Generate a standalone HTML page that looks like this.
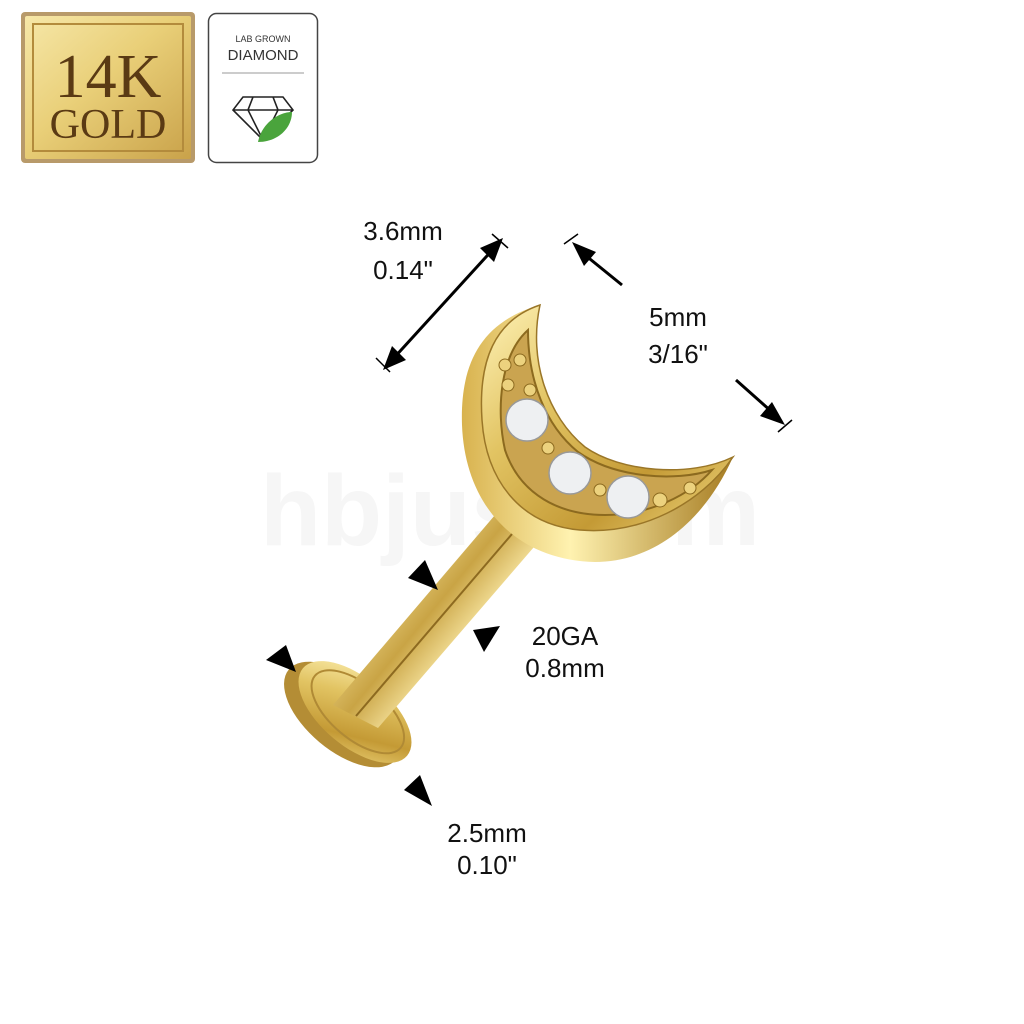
<!DOCTYPE html>
<html><head><meta charset="utf-8"><style>html,body{margin:0;padding:0;background:#fff}svg{display:block}</style></head>
<body>
<svg width="1024" height="1024" viewBox="0 0 1024 1024" xmlns="http://www.w3.org/2000/svg">
<defs>
<linearGradient id="gb" x1="0" y1="0" x2="1" y2="1">
<stop offset="0" stop-color="#f6e7a8"/><stop offset="0.45" stop-color="#e9cf78"/><stop offset="1" stop-color="#c9a24a"/></linearGradient>
<linearGradient id="gold" x1="0" y1="0" x2="1" y2="1">
<stop offset="0" stop-color="#fff3b8"/><stop offset="0.35" stop-color="#e2c463"/><stop offset="0.7" stop-color="#c49a35"/><stop offset="1" stop-color="#f0d880"/></linearGradient>
<linearGradient id="side" x1="0" y1="0" x2="1" y2="0">
<stop offset="0" stop-color="#d8b24e"/><stop offset="0.4" stop-color="#fff2b0"/><stop offset="1" stop-color="#a67c22"/></linearGradient>
<linearGradient id="post" x1="0" y1="0" x2="1" y2="0.85">
<stop offset="0" stop-color="#a27a25"/><stop offset="0.25" stop-color="#f5e29a"/><stop offset="0.5" stop-color="#c9a445"/><stop offset="0.7" stop-color="#fff0b0"/><stop offset="1" stop-color="#a07828"/></linearGradient>
</defs>
<!-- 14K badge -->
<rect x="21" y="12" width="174" height="151" rx="4" fill="#b89a6a"/>
<rect x="25" y="16" width="166" height="143" rx="2" fill="url(#gb)"/>
<rect x="33" y="24" width="150" height="127" fill="none" stroke="#b38b3c" stroke-width="2"/>
<text x="108" y="97" text-anchor="middle" font-family="Liberation Serif,serif" font-size="62" fill="#5a3a14">14K</text>
<text x="108" y="138" text-anchor="middle" font-family="Liberation Serif,serif" font-size="42" fill="#5a3a14">GOLD</text>
<!-- Lab badge -->
<rect x="208.5" y="13.5" width="109" height="149" rx="8" fill="#fff" stroke="#444" stroke-width="1.5"/>
<text x="263" y="42" text-anchor="middle" font-family="Liberation Sans,sans-serif" font-size="9" fill="#333">LAB GROWN</text>
<text x="263" y="60" text-anchor="middle" font-family="Liberation Sans,sans-serif" font-size="15" fill="#333">DIAMOND</text>
<line x1="222" y1="73" x2="304" y2="73" stroke="#999" stroke-width="1"/>
<path d="M243 97 L283 97 L293 110 L263 140 L233 110 Z M233 110 L293 110 M253 97 L248 110 L263 140 L278 110 L273 97" fill="none" stroke="#222" stroke-width="1.6"/>
<path d="M258 142 C262 122 280 112 292 112 C292 128 278 142 258 142 Z" fill="#4aa43c"/>
<!-- watermark -->
<text x="510" y="545" text-anchor="middle" font-family="Liberation Sans,sans-serif" font-weight="bold" font-size="100" fill="#f6f6f6">hbjus.com</text>
<!-- disc -->
<g transform="rotate(40 355 712)">
<ellipse cx="347" cy="722" rx="70" ry="36" fill="#b48d35"/>
<ellipse cx="355" cy="712" rx="68" ry="34" fill="url(#gold)"/>
<ellipse cx="357" cy="710" rx="56" ry="27" fill="none" stroke="#b08a35" stroke-width="2"/>
</g>
<!-- post -->
<path d="M333 705 L495 515 L540 540 L378 728 Z" fill="url(#post)"/>
<line x1="356" y1="716" x2="518" y2="527" stroke="#8d6a20" stroke-width="2"/>
<!-- moon side -->
<path d="M540 305 C480 322 460 365 462 425 C465 505 515 560 595 562 C655 562 705 520 733 457 C700 500 640 532 580 530 C520 525 486 480 482 420 C478 360 495 320 540 305 Z" fill="url(#side)"/>
<!-- moon face -->
<path d="M540 305 C495 320 478 360 482 420 C486 480 520 525 580 530 C640 535 700 505 733 457 C690 478 620 472 585 447 C548 417 528 360 540 305 Z" fill="url(#gold)" stroke="#9a7628" stroke-width="1.5"/>
<path d="M528 330 C500 355 496 410 505 450 C520 495 560 515 605 515 C650 515 690 495 712 470 C675 482 615 478 578 452 C545 425 528 380 528 330 Z" fill="#caa450" stroke="#8c6a1f" stroke-width="2"/>
<circle cx="527" cy="420" r="21" fill="#eef0f2" stroke="#999" stroke-width="1.5"/>
<circle cx="570" cy="473" r="21" fill="#eef0f2" stroke="#999" stroke-width="1.5"/>
<circle cx="628" cy="497" r="21" fill="#eef0f2" stroke="#999" stroke-width="1.5"/>
<circle cx="505" cy="365" r="6" fill="#ecd27e" stroke="#8c6a1f"/>
<circle cx="520" cy="360" r="6" fill="#ecd27e" stroke="#8c6a1f"/>
<circle cx="508" cy="385" r="6" fill="#ecd27e" stroke="#8c6a1f"/>
<circle cx="530" cy="390" r="6" fill="#ecd27e" stroke="#8c6a1f"/>
<circle cx="548" cy="448" r="6" fill="#ecd27e" stroke="#8c6a1f"/>
<circle cx="600" cy="490" r="6" fill="#ecd27e" stroke="#8c6a1f"/>
<circle cx="660" cy="500" r="7" fill="#ecd27e" stroke="#8c6a1f"/>
<circle cx="690" cy="488" r="6" fill="#ecd27e" stroke="#8c6a1f"/>
<!-- dimension arrows -->
<g stroke="#000" stroke-width="3" fill="#000">
<line x1="392" y1="360" x2="496" y2="246"/>
<line x1="376" y1="358" x2="390" y2="372" stroke-width="1.5"/>
<line x1="492" y1="234" x2="508" y2="248" stroke-width="1.5"/>
<line x1="585" y1="255" x2="622" y2="285"/>
<line x1="564" y1="244" x2="578" y2="234" stroke-width="1.5"/>
<line x1="736" y1="380" x2="772" y2="412"/>
<line x1="778" y1="432" x2="792" y2="420" stroke-width="1.5"/>
</g>
<g fill="#000">
<polygon points="383,370 392,346 406,360"/>
<polygon points="503,238 480,248 494,262"/>
<polygon points="572,242 596,252 584,266"/>
<polygon points="785,425 760,416 772,402"/>
<polygon points="408,578 425,560 438,590"/>
<polygon points="473,630 500,626 484,652"/>
<polygon points="266,660 286,645 296,672"/>
<polygon points="404,790 420,775 432,806"/>
</g>
<g font-family="Liberation Sans,sans-serif" font-size="26" fill="#111" text-anchor="middle">
<text x="403" y="240">3.6mm</text><text x="403" y="279">0.14"</text>
<text x="678" y="326">5mm</text><text x="678" y="363">3/16"</text>
<text x="565" y="645">20GA</text><text x="565" y="677">0.8mm</text>
<text x="487" y="842">2.5mm</text><text x="487" y="874">0.10"</text>
</g>
</svg>
</body></html>
